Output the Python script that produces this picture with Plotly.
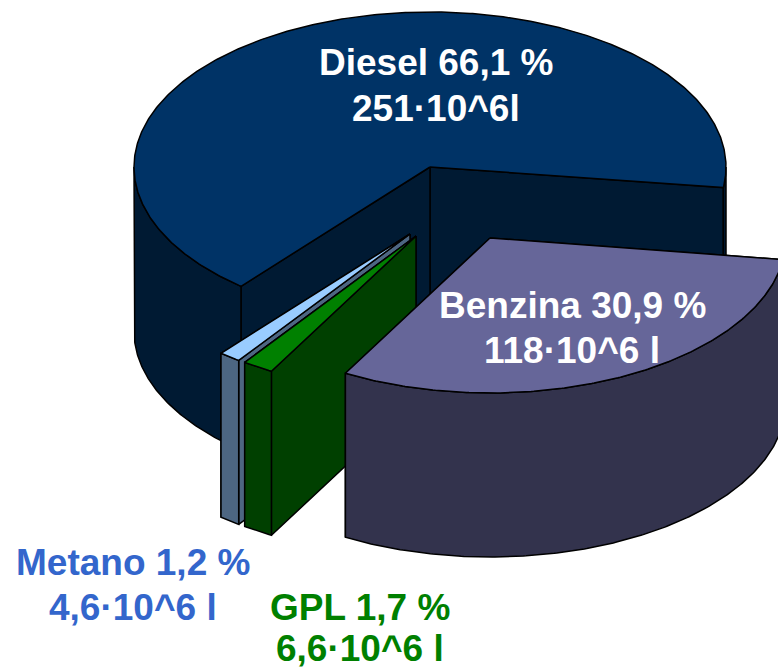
import numpy as np
import plotly.graph_objects as go

# Data
categories = ["Benzina", "GPL", "Metano", "Diesel"]
percent = [30.9, 1.7, 1.2, 66.1]
label_line1 = ["Benzina 30,9 %", "GPL 1,7 %", "Metano 1,2 %", "Diesel 66,1 %"]
label_line2 = ["118·10^6 l", "6,6·10^6 l", "4,6·10^6 l", "251·10^6l"]

# Styling / layout
top_colors = ["#666699", "#008000", "#99CCFF", "#003366"]
wall_colors = ["#33334D", "#004000", "#4D6682", "#001A33"]
text_colors = ["#FFFFFF", "#008000", "#3366CC", "#FFFFFF"]
centers = [(490, 238), (416, 236), (410, 234), (430, 167)]
label_xy = [(572, 305, 350), (360, 607, 648), (133, 562, 607), (436, 62, 108)]
RX, RY, DEPTH, START = 296, 155, 164, 8.0
W, H = 778, 669


def arc(c, t0, t1):
    t = np.radians(np.linspace(t0, t1, max(3, int(abs(t1 - t0) * 2))))
    return c[0] + RX * np.cos(t), c[1] + RY * np.sin(t)


fig = go.Figure()


def poly(x, y, color):
    x = list(x) + [x[0]]
    y = list(y) + [y[0]]
    fig.add_trace(go.Scatter(x=x, y=y, mode="lines", fill="toself", fillcolor=color,
                             line=dict(color="#000000", width=1.5), hoverinfo="skip",
                             showlegend=False))


def wall(c, t0, t1, color):
    x, y = arc(c, t0, t1)
    poly(np.r_[x, x[::-1]], np.r_[y, y[::-1] + DEPTH], color)


def inner(c, t, color):
    x, y = arc(c, t, t)
    x0, y0 = x[0], y[0]
    poly([c[0], x0, x0, c[0]], [c[1], y0, y0 + DEPTH, c[1] + DEPTH], color)


# slice angular spans, computed from the values
spans = []
a = START
for p in percent:
    spans.append((a, a + p * 3.6))
    a += p * 3.6

for i in [3, 2, 1, 0]:  # back to front
    c, (t0, t1) = centers[i], spans[i]
    # inner faces: the far one first
    inner(c, t1, wall_colors[i])
    inner(c, t0, wall_colors[i])
    # outer wall: visible in the front half only
    if i == 3:
        wall(c, t0, 180, wall_colors[i])
        wall(c, 360, t1, wall_colors[i])
    else:
        wall(c, t0, t1, wall_colors[i])
    ax, ay = arc(c, t0, t1)
    poly(np.r_[c[0], ax], np.r_[c[1], ay], top_colors[i])

for i in range(4):
    lx, y1, y2 = label_xy[i]
    for txt, ly in ((label_line1[i], y1), (label_line2[i], y2)):
        fig.add_annotation(x=lx, y=ly, text="<b>" + txt + "</b>", showarrow=False,
                           xanchor="center", yanchor="middle",
                           font=dict(family="Liberation Sans", size=37, color=text_colors[i]))

fig.update_layout(width=W, height=H, margin=dict(l=0, r=0, t=0, b=0), autosize=False,
                  paper_bgcolor="#FFFFFF", plot_bgcolor="#FFFFFF", showlegend=False,
                  xaxis=dict(range=[0, W], visible=False, fixedrange=True),
                  yaxis=dict(range=[H, 0], visible=False, fixedrange=True))

fig.write_html("out.html", config={"displayModeBar": False},
               post_script="document.body.style.margin='0';document.documentElement.style.overflow='hidden';")
